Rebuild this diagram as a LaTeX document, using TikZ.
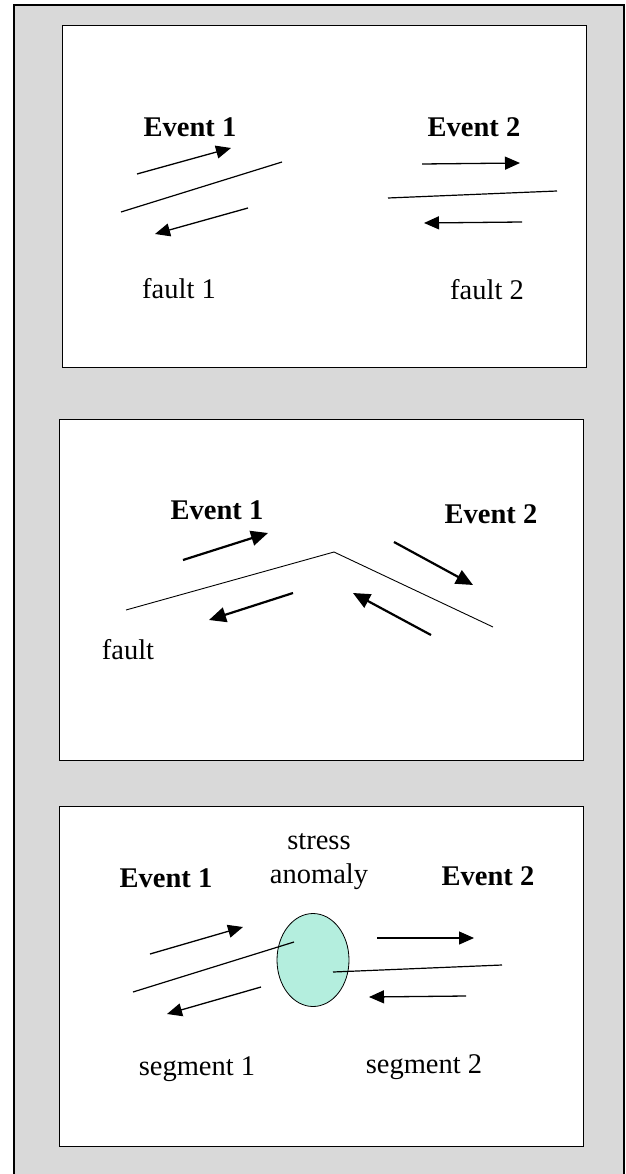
\documentclass[tikz,border=0pt]{standalone}
\usepackage{fontspec}
\setmainfont{Liberation Serif}
\usetikzlibrary{arrows.meta,shapes.geometric}
\definecolor{bggray}{RGB}{217,217,217}
\definecolor{anomfill}{RGB}{180,238,222}
\begin{document}
\begin{tikzpicture}[x=1pt,y=-1pt,
  txt/.style={font=\fontsize{28.5}{34}\selectfont, inner sep=0pt, anchor=base},
  evt/.style={font=\fontsize{28.5}{34}\selectfont\bfseries, inner sep=0pt, anchor=base},
  panel/.style={draw=black, line width=1pt, fill=white},
  fault/.style={line width=1.2pt},
  thinfault/.style={line width=0.9pt},
  slip/.style={line width=1.3pt, -{Triangle[length=15pt,width=13pt]}},
  bigslip/.style={line width=2.2pt, -{Triangle[length=17pt,width=15pt]}}]
\useasboundingbox (0,0) rectangle (625,1174);
% outer frame
\fill[bggray] (14,5) rectangle (624,1180);
\draw[line width=1.8pt] (14,1180) -- (14,5) -- (624,5) -- (624,1180);
% panels
\draw[panel] (62,26) rectangle (586,367);
\draw[panel] (59,419) rectangle (583,760);
\draw[panel] (59,806) rectangle (583,1146);

% ---------- panel 1
\node[evt] (p1e1) at (190,137) {Event 1};
\node[evt] (p1e2) at (474,137) {Event 2};
\node[txt] (p1f1) at (179,298) {fault 1};
\node[txt] (p1f2) at (487,299) {fault 2};
\coordinate (a1s) at (137,174); \coordinate (a1e) at (231,148);
\coordinate (f1s) at (121,212); \coordinate (f1e) at (282,162);
\coordinate (b1s) at (248,208); \coordinate (b1e) at (155,234);
\draw[slip] (a1s) -- (a1e);
\draw[fault] (f1s) -- (f1e);
\draw[slip] (b1s) -- (b1e);
\coordinate (a2s) at (422,164); \coordinate (a2e) at (520,163);
\coordinate (f2s) at (388,198); \coordinate (f2e) at (557,191);
\coordinate (b2s) at (522,222); \coordinate (b2e) at (424,223);
\draw[slip] (a2s) -- (a2e);
\draw[fault] (f2s) -- (f2e);
\draw[slip] (b2s) -- (b2e);

% ---------- panel 2
\node[evt] (p2e1) at (217,519) {Event 1};
\node[evt] (p2e2) at (491,523) {Event 2};
\node[txt] (p2f) at (128,659) {fault};
\coordinate (g1) at (126,610); \coordinate (g2) at (334,552); \coordinate (g3) at (493,627);
\draw[thinfault] (g1) -- (g2) -- (g3);
\coordinate (c1s) at (183,560); \coordinate (c1e) at (268,533);
\coordinate (c2s) at (293,593); \coordinate (c2e) at (209,620);
\coordinate (c3s) at (394,542); \coordinate (c3e) at (473,585);
\coordinate (c4s) at (431,635); \coordinate (c4e) at (353,593);
\draw[bigslip] (c1s) -- (c1e);
\draw[bigslip] (c2s) -- (c2e);
\draw[bigslip] (c3s) -- (c3e);
\draw[bigslip] (c4s) -- (c4e);

% ---------- panel 3
\node[txt] (p3s) at (319,849) {stress};
\node[txt] (p3a) at (319,883) {anomaly};
\node[evt] (p3e1) at (166,887) {Event 1};
\node[evt] (p3e2) at (488,885) {Event 2};
\node[txt] (p3g1) at (197,1075) {segment 1};
\node[txt] (p3g2) at (424,1073) {segment 2};
\node[draw=black, line width=0.8pt, fill=anomfill, ellipse, minimum width=72pt, minimum height=93pt, inner sep=0pt] (anom) at (313,960) {};
\coordinate (d1s) at (150,954); \coordinate (d1e) at (243,927);
\coordinate (h1s) at (133,992); \coordinate (h1e) at (294,942);
\coordinate (e1s) at (261,987); \coordinate (e1e) at (167,1014);
\draw[slip] (d1s) -- (d1e);
\draw[fault] (h1s) -- (h1e);
\draw[slip] (e1s) -- (e1e);
\coordinate (d2s) at (377,938); \coordinate (d2e) at (474,938);
\coordinate (h2s) at (333,972); \coordinate (h2e) at (502,965);
\coordinate (e2s) at (466,996); \coordinate (e2e) at (369,997);
\draw[slip] (d2s) -- (d2e);
\draw[fault] (h2s) -- (h2e);
\draw[slip] (e2s) -- (e2e);
\end{tikzpicture}
\end{document}
